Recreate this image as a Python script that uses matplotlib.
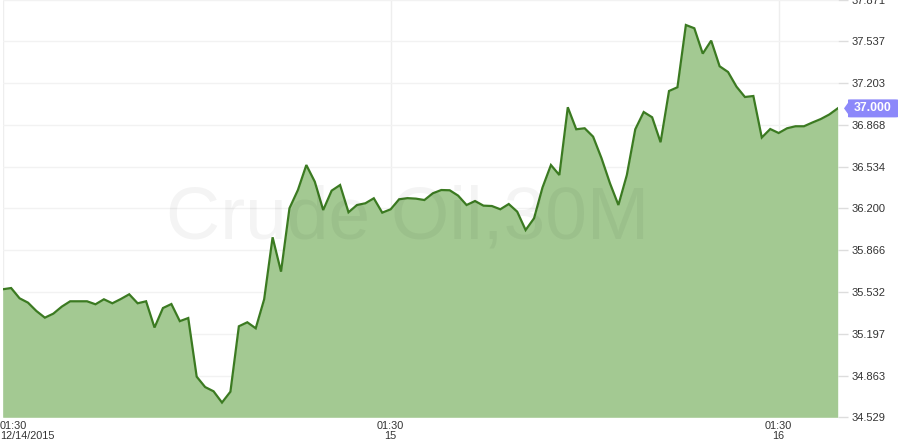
import matplotlib
matplotlib.use("Agg")
import matplotlib.pyplot as plt
from matplotlib.patches import FancyBboxPatch
import matplotlib.transforms as mtransforms

prices = [
    35.553, 35.563, 35.481, 35.446, 35.379, 35.326, 35.358, 35.414, 35.457, 35.457,
    35.457, 35.433, 35.473, 35.441, 35.475, 35.513, 35.441, 35.457, 35.247, 35.403,
    35.435, 35.298, 35.323, 34.854, 34.771, 34.737, 34.647, 34.734, 35.257, 35.289,
    35.241, 35.473, 35.969, 35.694, 36.201, 36.347, 36.547, 36.414, 36.187, 36.342,
    36.387, 36.169, 36.227, 36.241, 36.281, 36.166, 36.193, 36.273, 36.282, 36.278,
    36.267, 36.321, 36.347, 36.345, 36.302, 36.227, 36.259, 36.222, 36.219, 36.193,
    36.235, 36.174, 36.027, 36.121, 36.367, 36.547, 36.467, 37.009, 36.833, 36.841,
    36.774, 36.601, 36.401, 36.227, 36.467, 36.833, 36.971, 36.929, 36.729, 37.139,
    37.169, 37.667, 37.641, 37.438, 37.542, 37.337, 37.291, 37.174, 37.091, 37.099,
    36.767, 36.835, 36.803, 36.841, 36.857, 36.857, 36.887, 36.915, 36.951, 37.000,
]
x_tick_pos = [0, 46, 92]
x_tick_labels = ["01:30\n12/14/2015", "01:30\n15", "01:30\n16"]
y_ticks = [34.529, 34.863, 35.197, 35.532, 35.866, 36.200, 36.534, 36.868, 37.203, 37.537, 37.871]
last_price = 37.000
watermark = "Crude Oil,30M"

W, H = 900, 448
fig = plt.figure(figsize=(W / 100, H / 100), dpi=100)
left = 2.7 / W
right = 837.7 / W
bottom = (H - 417.3) / H
top = (H + 0.5) / H
ax = fig.add_axes([left, bottom, right - left, top - bottom])

xs = list(range(len(prices)))
ymin, ymax = y_ticks[0], y_ticks[-1]
ax.set_xlim(0, len(prices) - 1)
ax.set_ylim(ymin, ymax)

for s in ax.spines.values():
    s.set_visible(False)

ax.grid(True, axis="y", color="#f2f2f2", linewidth=1.0)
ax.grid(True, axis="x", color="#eeeeee", linewidth=1.0)
ax.set_axisbelow(True)

ax.fill_between(xs, prices, ymin, color="#a3c992", linewidth=0, zorder=2)
ax.plot(xs, prices, color="#3b7a21", linewidth=1.6, zorder=3, solid_joinstyle="miter")

ax.text(0.485, 0.428, watermark, transform=ax.transAxes, ha="center", va="baseline",
        fontsize=54, color="#000000", alpha=0.045, family="Liberation Sans", zorder=4)

ax.yaxis.tick_right()
ax.set_yticks(y_ticks)
ax.set_yticklabels([f"{v:.3f}" for v in y_ticks])
ax.tick_params(axis="y", which="both", length=7, width=1, color="#dddddd", pad=3,
               labelsize=8, labelcolor="#333333")
for lab in ax.get_yticklabels():
    lab.set_family("Liberation Sans")

ax.set_xticks(x_tick_pos)
ax.set_xticklabels(x_tick_labels)
ax.tick_params(axis="x", length=0, pad=3, labelsize=7.8, labelcolor="#333333")
for i, lab in enumerate(ax.get_xticklabels()):
    lab.set_family("Liberation Sans")
    lab.set_linespacing(0.9)
    if i == 0:
        lab.set_horizontalalignment("left")
offset = mtransforms.ScaledTranslation(-2.7 / 100, 0, fig.dpi_scale_trans)
lab0 = ax.get_xticklabels()[0]
lab0.set_transform(lab0.get_transform() + offset)

# last price marker on the right axis
trans = mtransforms.blended_transform_factory(fig.transFigure, ax.transData)
bx0, bx1 = 848 / W, 898 / W
ax.add_patch(FancyBboxPatch((bx0, last_price - 0.072), bx1 - bx0, 0.144,
                            boxstyle="round,pad=0,rounding_size=0.003",
                            transform=trans, facecolor="#8c88fa", edgecolor="none",
                            clip_on=False, zorder=5))
ax.add_patch(plt.Polygon([[844 / W, last_price], [848.5 / W, last_price + 0.05],
                          [848.5 / W, last_price - 0.05]], closed=True,
                         transform=trans, facecolor="#8c88fa", edgecolor="none",
                         clip_on=False, zorder=5))
ax.text((bx0 + bx1) / 2, last_price, f"{last_price:.3f}", transform=trans,
        ha="center", va="center", color="white", fontsize=8.8, fontweight="bold",
        family="Liberation Sans", zorder=6, clip_on=False)

fig.savefig("out.png", dpi=100, facecolor="white")
